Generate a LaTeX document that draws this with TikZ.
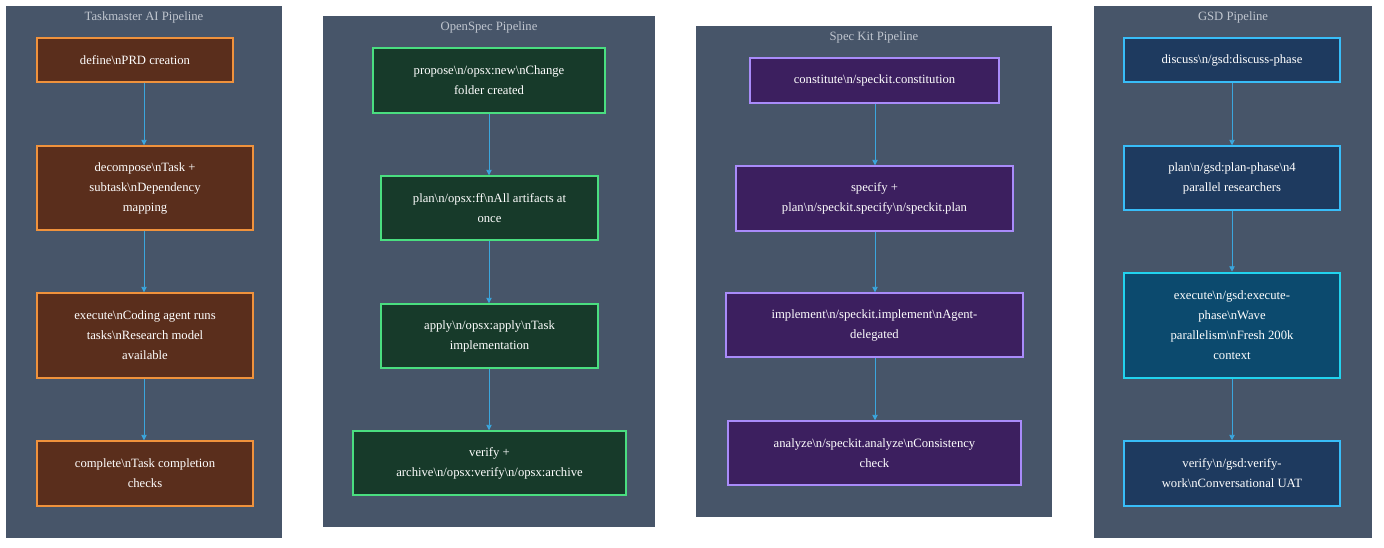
\documentclass[tikz,border=0pt]{standalone}
\usepackage{fontspec}
\setmainfont{Liberation Serif}
\usetikzlibrary{fit,arrows.meta}
\definecolor{panel}{HTML}{475569}
\definecolor{ttl}{HTML}{C0C6CF}
\definecolor{orF}{HTML}{5A2E1C}\definecolor{orB}{HTML}{F0923C}
\definecolor{grF}{HTML}{173A2A}\definecolor{grB}{HTML}{4ADE80}
\definecolor{puF}{HTML}{3C1F5F}\definecolor{puB}{HTML}{A98BFA}
\definecolor{blF}{HTML}{1E3A5F}\definecolor{blB}{HTML}{38BDF8}
\definecolor{exF}{HTML}{0C4A6E}\definecolor{exB}{HTML}{22D3EE}
\definecolor{arr}{HTML}{3BA6DD}
\newcommand{\bsn}{\textbackslash n}
\begin{document}
\begin{tikzpicture}[x=0.75pt,y=-0.75pt,
 pan/.style={fill=panel,draw=none,inner sep=0pt},
 ttlst/.style={text=ttl,font=\fontsize{9.5}{11}\selectfont,anchor=center},
 box/.style={inner sep=0pt,align=center,text=white,line width=1.1pt,font=\fontsize{9.5}{15}\selectfont},
 tm/.style={box,fill=orF,draw=orB},
 os/.style={box,fill=grF,draw=grB},
 sk/.style={box,fill=puF,draw=puB},
 gs/.style={box,fill=blF,draw=blB},
 gx/.style={box,fill=exF,draw=exB,line width=2pt},
 con/.style={draw=arr,line width=0.6pt,-{Triangle[length=4pt,width=4pt]}}]
\useasboundingbox (0,0) rectangle (1384,548);
\fill[white] (0,0) rectangle (1384,548);
% panels
\node[pan,fit={(6,6)(282,538)}] (p1) {};
\node[pan,fit={(323,16)(655,527)}] (p2) {};
\node[pan,fit={(696,26)(1052,517)}] (p3) {};
\node[pan,fit={(1094,6)(1372,538)}] (p4) {};
\node[ttlst] (t1) at (144,17) {Taskmaster AI Pipeline};
\node[ttlst] (t2) at (489,27) {OpenSpec Pipeline};
\node[ttlst] (t3) at (874,37) {Spec Kit Pipeline};
\node[ttlst] (t4) at (1233,17) {GSD Pipeline};
% Taskmaster
\node[tm,fit={(37,38)(233,82)}] (a1) {};
\node at (a1) [box] {define\bsn PRD creation};
\node[tm,fit={(37,146)(253,230)}] (a2) {};
\node at (a2) [box] {decompose\bsn Task +\\subtask\bsn Dependency\\mapping};
\node[tm,fit={(37,293)(253,378)}] (a3) {};
\node at (a3) [box] {execute\bsn Coding agent runs\\tasks\bsn Research model\\available};
\node[tm,fit={(37,441)(253,506)}] (a4) {};
\node at (a4) [box] {complete\bsn Task completion\\checks};
% OpenSpec
\node[os,fit={(373,48)(605,113)}] (b1) {};
\node at (b1) [box] {propose\bsn/opsx:new\bsn Change\\folder created};
\node[os,fit={(381,176)(598,240)}] (b2) {};
\node at (b2) [box] {plan\bsn/opsx:ff\bsn All artifacts at\\once};
\node[os,fit={(381,304)(598,368)}] (b3) {};
\node at (b3) [box] {apply\bsn/opsx:apply\bsn Task\\implementation};
\node[os,fit={(353,431)(626,495)}] (b4) {};
\node at (b4) [box] {verify +\\archive\bsn/opsx:verify\bsn/opsx:archive};
% Spec Kit
\node[sk,fit={(750,58)(999,103)}] (c1) {};
\node at (c1) [box] {constitute\bsn/speckit.constitution};
\node[sk,fit={(736,166)(1013,231)}] (c2) {};
\node at (c2) [box] {specify +\\plan\bsn/speckit.specify\bsn/speckit.plan};
\node[sk,fit={(726,293)(1023,357)}] (c3) {};
\node at (c3) [box] {implement\bsn/speckit.implement\bsn Agent-\\delegated};
\node[sk,fit={(728,421)(1021,485)}] (c4) {};
\node at (c4) [box] {analyze\bsn/speckit.analyze\bsn Consistency\\check};
% GSD
\node[gs,fit={(1124,38)(1340,82)}] (d1) {};
\node at (d1) [box] {discuss\bsn/gsd:discuss-phase};
\node[gs,fit={(1124,146)(1340,210)}] (d2) {};
\node at (d2) [box] {plan\bsn/gsd:plan-phase\bsn 4\\parallel researchers};
\node[gx,fit={(1124,273)(1340,378)}] (d3) {};
\node at (d3) [box] {execute\bsn/gsd:execute-\\phase\bsn Wave\\parallelism\bsn Fresh 200k\\context};
\node[gs,fit={(1124,441)(1340,506)}] (d4) {};
\node at (d4) [box] {verify\bsn/gsd:verify-\\work\bsn Conversational UAT};
% connectors (vertical at column x)
\foreach \p/\cx in {a/144,b/489,c/875,d/1232}{
 \coordinate (x\p) at (\cx,0);
 \draw[con] (\p1.south -| x\p) -- (\p2.north -| x\p);
 \draw[con] (\p2.south -| x\p) -- (\p3.north -| x\p);
 \draw[con] (\p3.south -| x\p) -- (\p4.north -| x\p);}
\end{tikzpicture}
\end{document}
